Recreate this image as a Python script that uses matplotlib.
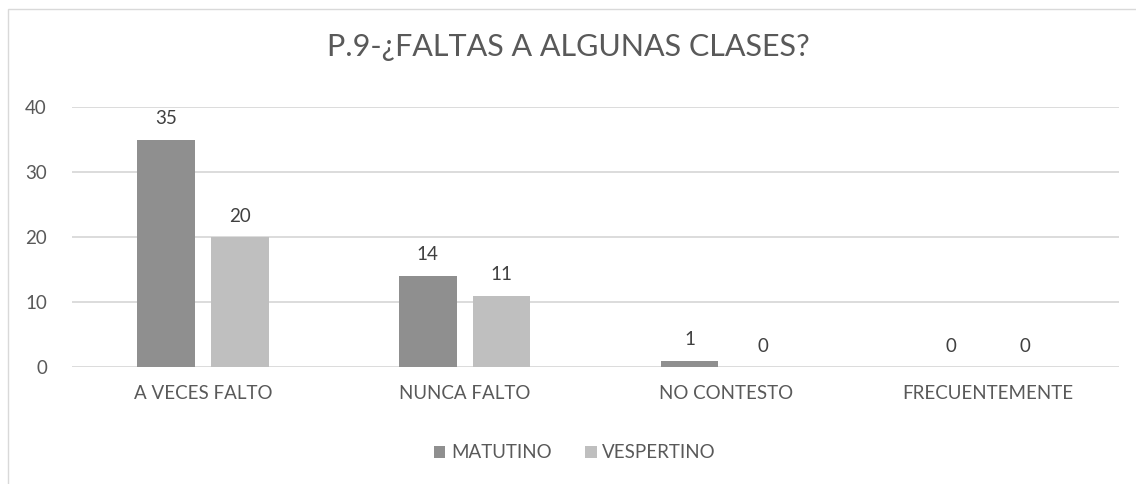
import numpy as np
import matplotlib.pyplot as plt
from matplotlib.patches import Rectangle

categorias = ['A VECES FALTO', 'NUNCA FALTO', 'NO CONTESTO', 'FRECUENTEMENTE']
matutino = [35, 14, 1, 0]
vespertino = [20, 11, 0, 0]
series = ['MATUTINO', 'VESPERTINO']
titulo = 'P.9-¿FALTAS A ALGUNAS CLASES?'

plt.rcParams['font.family'] = ['Lato', 'DejaVu Sans']
gris_txt = '#595959'

fig = plt.figure(figsize=(11.36, 4.84), dpi=100)
# borde del area del grafico (estilo excel)
fig.patches.append(Rectangle((8 / 1136, -0.1), 1.2, 1 - 9 / 484 + 0.1, transform=fig.transFigure,
                             fill=False, edgecolor='#d9d9d9', linewidth=1))
ax = fig.add_axes([72 / 1136, 117 / 484, 1047 / 1136, 260 / 484])

x = np.arange(len(categorias)) + 0.5
ancho = 0.22
off = 0.141
b1 = ax.bar(x - off, matutino, ancho, color='#8f8f8f', label=series[0], zorder=3)
b2 = ax.bar(x + off, vespertino, ancho, color='#bfbfbf', label=series[1], zorder=3)

for barras in (b1, b2):
    for b in barras:
        h = b.get_height()
        ax.annotate(str(int(h)), (b.get_x() + b.get_width() / 2, h), xytext=(0, 9),
                    textcoords='offset points', ha='center', va='bottom',
                    fontsize=13.5, color='#404040')

ax.set_xlim(0, len(categorias))
ax.set_ylim(0, 40)
ax.set_yticks([0, 10, 20, 30, 40])
ax.set_xticks(x)
ax.set_xticklabels(categorias)
ax.tick_params(axis='both', length=0, labelsize=13.5, colors=gris_txt)
ax.tick_params(axis='x', pad=13)
ax.tick_params(axis='y', pad=18)
ax.grid(axis='y', color='#d9d9d9', linewidth=1.3, zorder=0)
for s in ax.spines.values():
    s.set_visible(False)

fig.text(0.5, 1 - 47 / 484, titulo, ha='center', va='center', fontsize=22, color=gris_txt)
fig.legend(loc='center', bbox_to_anchor=(575 / 1136, 1 - 453 / 484), ncol=2, frameon=False,
           fontsize=13.5, labelcolor=gris_txt, handlelength=0.6, handleheight=0.6,
           handletextpad=0.3, columnspacing=1.8)

fig.savefig('out.png', dpi=100)
